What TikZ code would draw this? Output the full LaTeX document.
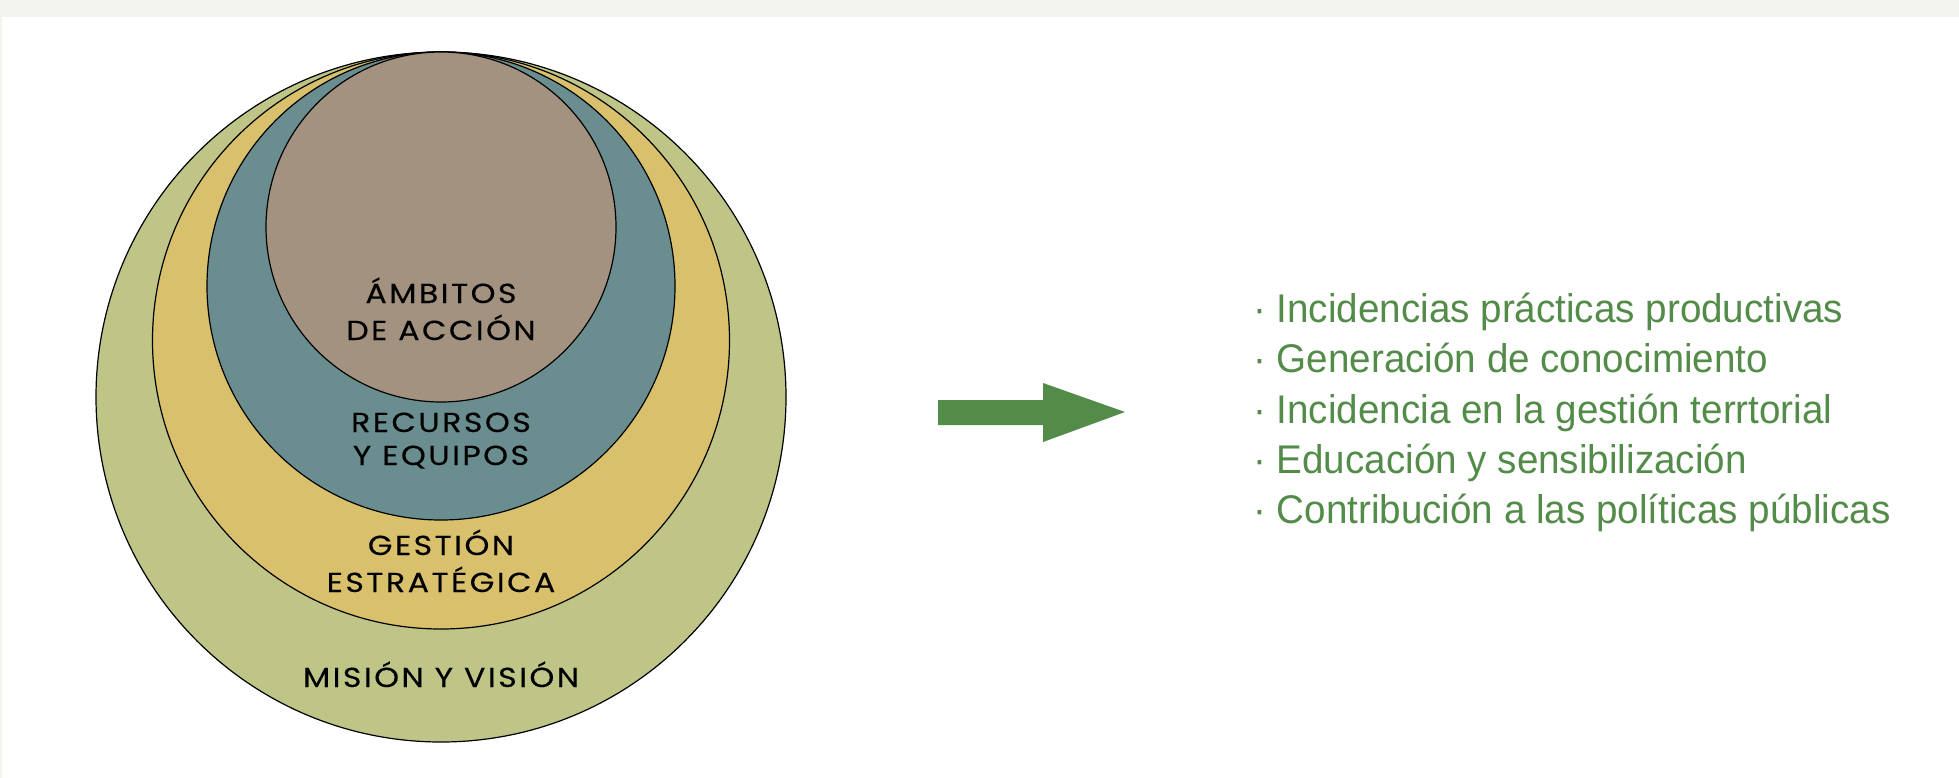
\documentclass[tikz,border=0pt]{standalone}
\usepackage{fontspec}
\setmainfont{Liberation Sans}[FakeStretch=0.965]
\newfontfamily\ringfont{Poppins}[FakeStretch=1.15, LetterSpace=9, FakeBold=0.3]
\usetikzlibrary{positioning}

\definecolor{misioncol}{RGB}{191,196,135}
\definecolor{gestioncol}{RGB}{217,192,108}
\definecolor{recursoscol}{RGB}{106,142,143}
\definecolor{ambitoscol}{RGB}{163,146,127}
\definecolor{leafgreen}{RGB}{83,139,72}
\definecolor{paper}{RGB}{244,244,238}

\tikzset{
	ring/.style={circle, draw=black, line width=1.2pt, inner sep=0pt},
	ringlabel/.style={anchor=base, inner sep=0pt, font=\ringfont\fontsize{27.5}{32}\selectfont},
	item/.style={anchor=base west, inner sep=0pt, text=leafgreen, font=\fontsize{40}{46}\selectfont}
}

\begin{document}
\begin{tikzpicture}[x=1pt, y=-1pt]
	\useasboundingbox (0,0) rectangle (1959,778);
	\fill[paper] (0,0) rectangle (1959,778); \fill[white] (2,17) rectangle (1959,778);

	% nested circles, all touching at the top
	\node[ring, fill=misioncol, minimum size=690pt] (mision) at (441,397) {};
	\node[ring, fill=gestioncol, minimum size=577pt] (gestion) at (441,340.5) {};
	\node[ring, fill=recursoscol, minimum size=468pt] (recursos) at (441,286) {};
	\node[ring, fill=ambitoscol, minimum size=350pt] (ambitos) at (441,227) {};

	\node[ringlabel] (ambitosA) at (441,303) {ÁMBITOS}; \node[ringlabel] (ambitosB) at (441,340) {DE ACCIÓN};
	\node[ringlabel] (recursosA) at (441,432) {RECURSOS}; \node[ringlabel] (recursosB) at (441,465) {Y EQUIPOS};
	\node[ringlabel] (gestionA) at (441,555) {GESTIÓN}; \node[ringlabel] (gestionB) at (441,592) {ESTRATÉGICA};
	\node[ringlabel] (misionA) at (441,687) {MISIÓN Y VISIÓN};

	% arrow
	\fill[leafgreen] (938,400) -- (1043,400) -- (1043,383) -- (1125,412) -- (1043,442) -- (1043,425) -- (938,425) -- cycle;

	% outcomes
	\node[item] (itemA) at (1253,322) {· Incidencias prácticas productivas};
	\node[item] (itemB) at (1253,372) {· Generación de conocimiento};
	\node[item] (itemC) at (1253,423) {· Incidencia en la gestión terrtorial};
	\node[item] (itemD) at (1253,473) {· Educación y sensibilización};
	\node[item] (itemE) at (1253,523) {· Contribución a las políticas públicas};
\end{tikzpicture}
\end{document}
